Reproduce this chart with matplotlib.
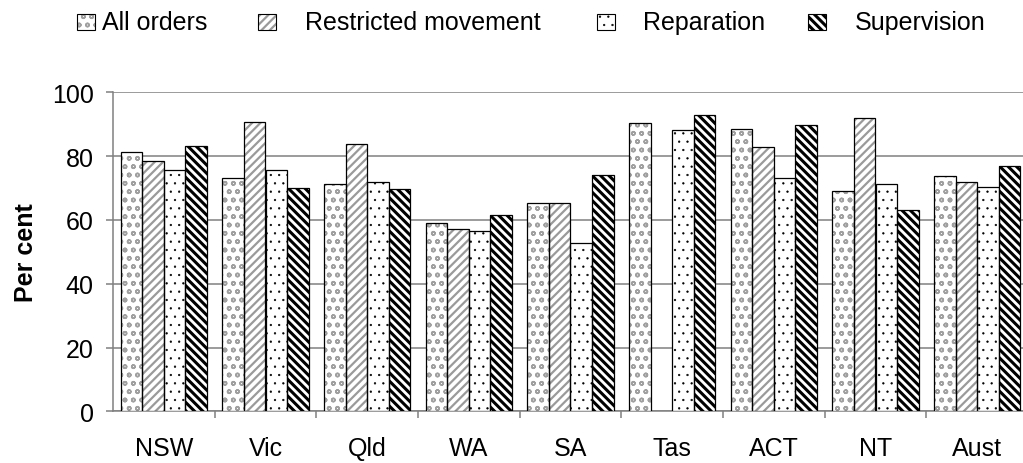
import matplotlib
matplotlib.use("Agg")
from matplotlib import pyplot as plt
from matplotlib.patches import Rectangle
import numpy as np

plt.rcParams['font.family'] = ['Liberation Sans', 'DejaVu Sans']

states = ["NSW", "Vic", "Qld", "WA", "SA", "Tas", "ACT", "NT", "Aust"]
all_orders = [81.3, 73.0, 71.3, 59.0, 65.3, 90.4, 88.6, 69.0, 73.9]
restricted = [78.4, 90.8, 83.7, 57.3, 65.2, 0, 83.0, 92.1, 71.8]
reparation = [75.5, 75.5, 72.0, 56.5, 52.9, 88.3, 73.0, 71.4, 70.2]
supervision = [83.3, 70.1, 69.7, 61.5, 74.2, 93.0, 89.6, 63.0, 76.8]

series = [
    ("All orders", all_orders, "oo", "#a0a0a0", 1.1),
    ("Restricted movement", restricted, "////", "#9a9a9a", 1.6),
    ("Reparation", reparation, "..", "black", 0.4),
    ("Supervision", supervision, "\\\\\\\\", "black", 2.2),
]

W, H = 1023, 464
fig = plt.figure(figsize=(W / 100, H / 100), dpi=100)
ax = fig.add_axes([113 / W, 1 - 412.3 / H, 915 / W, (412.3 - 93.3) / H])

x = np.arange(len(states))
bw = 0.213


def hatch_lw(p, lw):
    if hasattr(p, "set_hatch_linewidth"):
        p.set_hatch_linewidth(lw)


for i, (name, vals, hatch, hc, lw) in enumerate(series):
    pos = x - 2 * bw + bw / 2 + i * bw
    plt.rcParams['hatch.linewidth'] = lw
    bars = ax.bar(pos, vals, bw, color="white", edgecolor=hc, hatch=hatch,
                  linewidth=0, zorder=3)
    for b in bars:
        hatch_lw(b, lw)
    ax.bar(pos, vals, bw, fill=False, edgecolor=["black" if v > 0 else "none" for v in vals],
           linewidth=0.9, zorder=4)

ax.set_xlim(-0.5, 8.5)
ax.set_ylim(0, 100)
ax.set_yticks(range(0, 101, 20))
ax.yaxis.grid(True, color="#808080", linewidth=1.1, zorder=0)
ax.set_axisbelow(True)
ax.set_xticks(x)
ax.set_xticklabels(states)
ax.set_xticks(np.arange(0.5, 8.5, 1), minor=True)
ax.tick_params(axis="x", which="major", length=0, pad=18, labelsize=18)
ax.tick_params(axis="x", which="minor", length=5, width=1.1, color="#808080", direction="out")
ax.tick_params(axis="y", length=5, width=1.1, color="#808080", pad=9, labelsize=18)
for s in ["top", "right"]:
    ax.spines[s].set_visible(False)
for s in ["left", "bottom"]:
    ax.spines[s].set_color("#808080")
    ax.spines[s].set_linewidth(1.1)
ax.set_ylabel("Per cent", fontsize=18, fontweight="bold", labelpad=10)

# legend drawn by hand to match the spacing of the original
legend_pos = [(77, 102), (258, 305), (597, 643), (808, 855)]
for (name, vals, hatch, hc, lw), (mx, tx) in zip(series, legend_pos):
    plt.rcParams['hatch.linewidth'] = lw
    r = Rectangle((mx / W, 1 - 31 / H), 18 / W, 16 / H, transform=fig.transFigure,
                  facecolor="white", edgecolor=hc, hatch=hatch, linewidth=0)
    hatch_lw(r, lw)
    fig.add_artist(r)
    fig.add_artist(Rectangle((mx / W, 1 - 31 / H), 18 / W, 16 / H, transform=fig.transFigure,
                             fill=False, edgecolor="black", linewidth=0.8))
    fig.text(tx / W, 1 - 23 / H, name, fontsize=18, va="center", ha="left")

fig.savefig("out.png", dpi=100)
